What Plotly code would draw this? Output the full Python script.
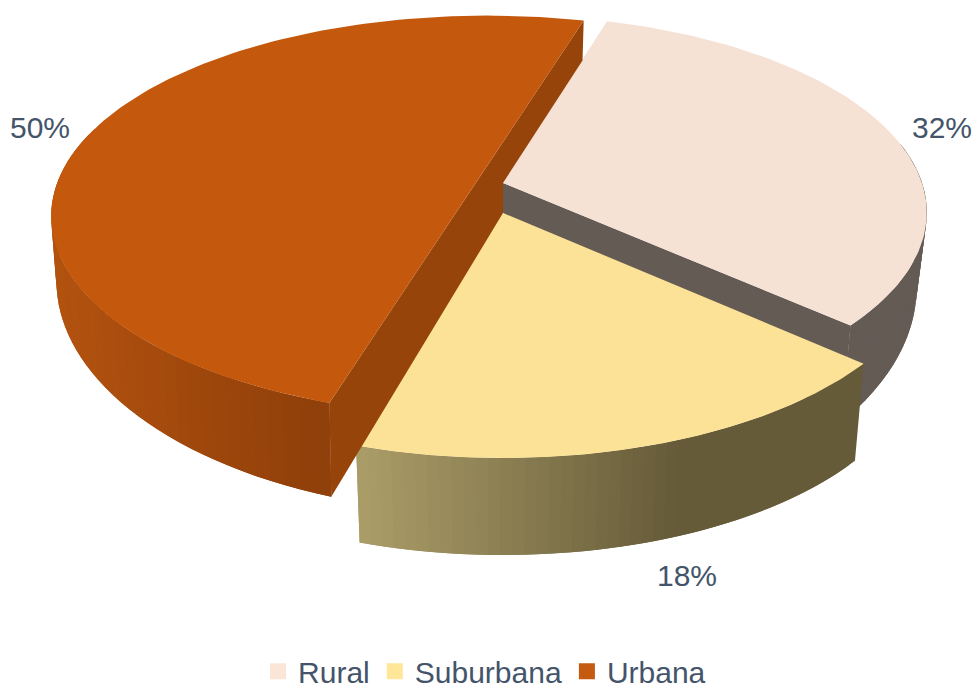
import math
import plotly.graph_objects as go

# ---- data ----
categories = ["Rural", "Suburbana", "Urbana"]
values = [32, 18, 50]
labels = ["32%", "18%", "50%"]
legend_colors = ["#FBE5D6", "#FFE699", "#C55A11"]
top_colors = ["#F6E1D5", "#FBE296", "#C4590E"]

# ---- style / projection parameters (pixel space of a 977x690 canvas) ----
FIRST_ANGLE = 16.5
GEOM = [  # per slice: apex x, apex y, a, b, perspective k, wall h0, wall n, inset
    dict(cx=503, cy=183, a=419, b=193, k=0.15, h0=70, n=3.0, e=0.024),
    dict(cx=503, cy=213, a=420, b=197, k=0.196, h0=97, n=0.0, e=0.024),
    dict(cx=487, cy=166, a=422, b=188, k=0.25, h0=58, n=1.75, e=0.012),
]
WALL_VISIBLE = [(78, None), (None, None), (None, 282)]
LABEL_OFFSET = [(52, -5), (42, 129), (-69, 11)]
TEXT = "#44546A"
FONT = "Liberation Sans"
RURAL_WALL = (100, 91, 85)
URBANA_INNER = (150, 68, 10)
WALL_RAMPS = [
    None,
    (360, 670, (170, 156, 103), (102, 91, 57)),
    (60, 330, (178, 82, 15), (143, 63, 10)),
]


def top_pt(g, deg):
    t = math.radians(deg)
    X, Y = math.sin(t), math.cos(t)
    w = 1 + g["k"] * Y
    return g["cx"] + g["a"] * X / w, g["cy"] - g["b"] * Y / w, w


def bot_pt(g, deg):
    x, y, w = top_pt(g, deg)
    return g["cx"] + (x - g["cx"]) * (1 - g["e"]), y + g["h0"] / w ** g["n"]


def rgb(c):
    return "rgb(%d,%d,%d)" % tuple(round(v) for v in c)


fig = go.Figure()


def poly(pts, color):
    fig.add_trace(go.Scatter(
        x=[p[0] for p in pts] + [pts[0][0]],
        y=[p[1] for p in pts] + [pts[0][1]],
        mode="lines", fill="toself", fillcolor=color,
        line=dict(color=color, width=0),
        hoverinfo="skip", showlegend=False))


# slice angle spans derived from the values
spans = []
start = FIRST_ANGLE
total = sum(values)
for v in values:
    end = start + v / total * 360
    spans.append((start, end))
    start = end


def outer_wall(i):
    g = GEOM[i]
    s, e = spans[i]
    if WALL_VISIBLE[i][0] is not None:
        s = WALL_VISIBLE[i][0]
    if WALL_VISIBLE[i][1] is not None:
        e = WALL_VISIBLE[i][1]
    n = 48
    ramp = WALL_RAMPS[i]
    # painted as overlapping bands so that no seams remain between neighbours
    order = range(n) if ramp is None or i == 1 else range(n - 1, -1, -1)
    for j in order:
        d0 = s + (e - s) * j / n
        d1 = s + (e - s) * (j + 1) / n
        if order.step > 0:
            d1 = min(e, d1 + (e - s) / n)
        else:
            d0 = max(s, d0 - (e - s) / n)
        t0, t1 = top_pt(g, d0), top_pt(g, d1)
        b0, b1 = bot_pt(g, d0), bot_pt(g, d1)
        if ramp:
            u = ((t0[0] + t1[0]) / 2 - ramp[0]) / (ramp[1] - ramp[0])
            u = max(0, min(1, u))
            c = [ramp[2][q] + (ramp[3][q] - ramp[2][q]) * u for q in range(3)]
        else:
            c = RURAL_WALL
        poly([t0[:2], t1[:2], b1, b0], rgb(c))


def top_face(i):
    g = GEOM[i]
    s, e = spans[i]
    n = 120
    pts = [(g["cx"], g["cy"])]
    pts += [top_pt(g, s + (e - s) * j / n)[:2] for j in range(n + 1)]
    poly(pts, top_colors[i])


# Rural
outer_wall(0)
r, su, ur = GEOM
poly([(r["cx"], r["cy"]), top_pt(r, spans[0][1])[:2], bot_pt(r, spans[0][1]),
      (su["cx"], su["cy"])], rgb(RURAL_WALL))
top_face(0)
# Suburbana
outer_wall(1)
top_face(1)
# Urbana
outer_wall(2)
poly([top_pt(ur, spans[2][1])[:2], bot_pt(ur, spans[2][1]),
      (r["cx"], r["cy"]), (su["cx"], su["cy"]),
      bot_pt(ur, spans[2][0]), top_pt(ur, spans[2][0])[:2]], rgb(URBANA_INNER))
top_face(2)

# legend entries
for name, col in zip(categories, legend_colors):
    fig.add_trace(go.Scatter(
        x=[None], y=[None], mode="markers", name=name,
        marker=dict(symbol="square", size=16, color=col)))

# data labels
annotations = []
for i, txt in enumerate(labels):
    mid = sum(spans[i]) / 2
    x, y, _ = top_pt(GEOM[i], mid)
    annotations.append(dict(
        x=x + LABEL_OFFSET[i][0], y=y + LABEL_OFFSET[i][1], text=txt,
        showarrow=False, xanchor="center", yanchor="middle", xref="x", yref="y",
        font=dict(family=FONT, size=30, color=TEXT)))

fig.update_layout(
    width=977, height=690,
    margin=dict(l=0, r=0, t=0, b=0, autoexpand=False),
    paper_bgcolor="white", plot_bgcolor="white",
    xaxis=dict(range=[0, 977], visible=False, fixedrange=True),
    yaxis=dict(range=[690, 0], visible=False, fixedrange=True),
    annotations=annotations,
    showlegend=True,
    legend=dict(orientation="h", x=0.496, xanchor="center", y=0.027, yanchor="middle",
                font=dict(family=FONT, size=30, color=TEXT),
                bgcolor="rgba(0,0,0,0)", borderwidth=0),
    font=dict(family=FONT),
)

fig.write_html("out.html", config={"displayModeBar": False},
               post_script="document.body.style.margin='0';document.body.style.overflow='hidden';")
